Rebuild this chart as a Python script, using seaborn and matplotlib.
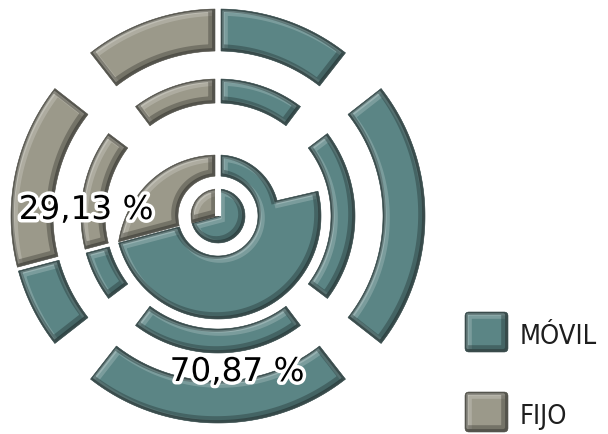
import numpy as np
import matplotlib
matplotlib.use("Agg")
import matplotlib.pyplot as plt
import matplotlib.colors as mcolors
import matplotlib.patheffects as pe
from matplotlib.patches import Polygon, Wedge, PathPatch, FancyBboxPatch
from matplotlib import font_manager
import seaborn as sns

# %%
# data
categories = ["MÓVIL", "FIJO"]
shares = [70.87, 29.13]
colors = ["#5b8585", "#9b998a"]

sns.set_theme(style="white")
plt.rcParams['font.family'] = ['DejaVu Sans']
palette = sns.color_palette(colors)

installed = {f.name for f in font_manager.fontManager.ttflist}
legend_font = 'Liberation Sans Narrow' if 'Liberation Sans Narrow' in installed else 'DejaVu Sans'
legend_size = 21 if legend_font != 'DejaVu Sans' else 19.5

fig = plt.figure(figsize=(6.08, 4.35), dpi=100)
ax = fig.add_axes([0, 0, 1, 1])
ax.set_xlim(0, 608)
ax.set_ylim(0, 435)
ax.axis('off')

cx, cy = 218, 218
# FIJO starts at 12 o'clock and runs counter clockwise
split = 90 + 360 * shares[1] / 100


def shade(c, amt):
    rgb = np.array(mcolors.to_rgb(c))
    if amt > 0:
        return tuple(rgb + (1 - rgb) * amt)
    return tuple(rgb * (1 + amt))


def bevel(patch, color):
    patch.set_facecolor(color)
    patch.set_edgecolor(shade(color, -0.5))
    patch.set_linewidth(0.4)
    ax.add_patch(patch)
    rim = PathPatch(patch.get_path(), fill=False, lw=0, edgecolor='none')
    rim.set_path_effects([
        pe.Stroke(linewidth=7, foreground=shade(color, 0.55), offset=(1.4, -1.4), alpha=0.35),
        pe.Stroke(linewidth=3.5, foreground=shade(color, 0.7), offset=(0.8, -0.8), alpha=0.35),
        pe.Stroke(linewidth=7, foreground=shade(color, -0.55), offset=(-1.4, 1.4), alpha=0.45),
        pe.Stroke(linewidth=3, foreground=shade(color, -0.65), offset=(-0.6, 0.6), alpha=0.6),
    ])
    ax.add_patch(rim)
    rim.set_clip_path(patch)


def arc_pts(t0, t1, r, n=400):
    th = np.linspace(t0, t1, n)
    rr = r(th) if callable(r) else np.full(n, float(r))
    th = np.radians(th)
    return np.column_stack([cx + rr * np.cos(th), cy + rr * np.sin(th)])


def off(g, r):
    # keeps cut edges parallel to the radius
    return np.degrees(np.arcsin(min(g / r, 1)))


def band(t0, t1, r_in, r_out, g0=0.0, g1=0.0):
    ro0 = float(r_out(t0)) if callable(r_out) else r_out
    ro1 = float(r_out(t1)) if callable(r_out) else r_out
    outer = arc_pts(t0 + off(g0, ro0), t1 - off(g1, ro1), r_out)
    inner = arc_pts(t1 - off(g1, r_in), t0 + off(g0, r_in), r_in)
    return Polygon(np.vstack([outer, inner]), closed=True)


# %%
# outer two rings, four quadrant pieces each, cut by the two categories
ranges = [(90, split, palette[1]), (split, 450, palette[0])]
rings = [(165, 207, 38), (113, 137, 37)]
for r_in, r_out, span in rings:
    for c in (0, 90, 180, 270):
        a, b = c - span, c + span
        for lo, hi, col in ranges:
            for sh in (0, 360):
                s0, s1 = max(a + sh, lo), min(b + sh, hi)
                if s1 <= s0:
                    continue
                g0 = (3 if s0 in (90, 450) else 2) if s0 == lo else 0
                g1 = (3 if s1 in (90, 450) else 2) if s1 == hi else 0
                bevel(band(s0, s1, r_in, r_out, g0, g1), col)

# inner ring: FIJO widens towards the cut, MÓVIL is the thick block
step = 374
fijo_r = lambda t: 61 + 42 * ((np.asarray(t) - 90) / (split - 90)) ** 2
movil_r = lambda t: np.where(np.asarray(t) < step, 103, 61)
bevel(band(90, split, 40, fijo_r, 3, 0.6), palette[1])
bevel(band(split, 450, 40, movil_r, 0.6, 3), palette[0])

# centre pie
bevel(Wedge((cx, cy), 27, split, 450), palette[0])
bevel(Wedge((cx, cy), 27, 90, split), palette[1])
ax.plot([cx, cx], [cy, cy + 32], color='white', lw=4.3, solid_capstyle='butt')

# %%
# percentage labels
label_txt = [f"{v:.2f}".replace(".", ",") + " %" for v in shares]
label_pos = [(237, 53), (86, 215)]
for txt, (x, y) in zip(label_txt, label_pos):
    ax.text(x, y, txt, ha='center', va='baseline', fontsize=23.5, color='black',
            path_effects=[pe.withStroke(linewidth=5, foreground='white')])

# legend
legend_y = [82, 2]
for name, col, y in zip(categories, palette, legend_y):
    box = FancyBboxPatch((465, y), 43, 40, boxstyle="round,pad=0,rounding_size=4")
    bevel(box, col)
    ax.text(520, y + 9, name, ha='left', va='baseline', fontsize=legend_size,
            family=legend_font, fontstretch='condensed', color='#1e1e1e')

fig.savefig('out.png', dpi=100)
